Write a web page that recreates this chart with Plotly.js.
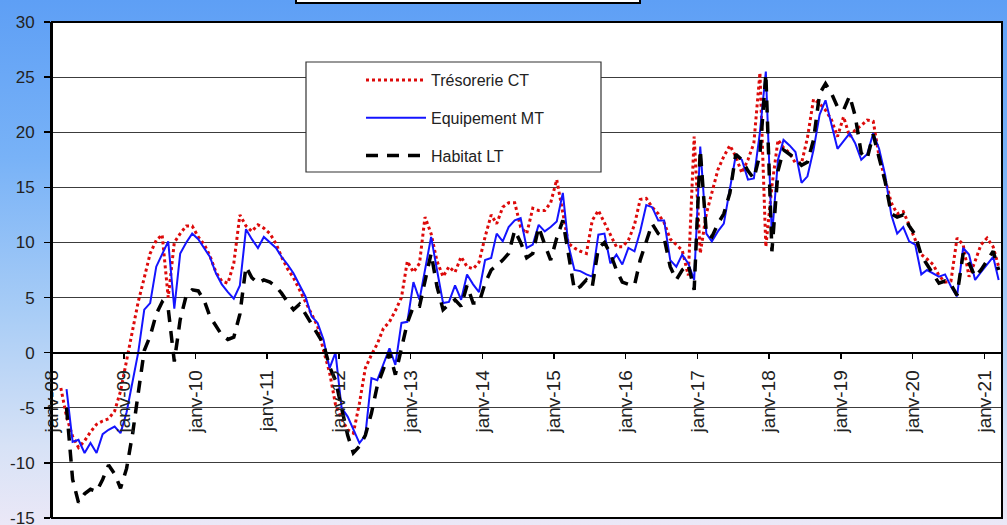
<!DOCTYPE html>
<html><head><meta charset="utf-8">
<script src="https://cdn.plot.ly/plotly-3.0.1.min.js"></script>
<style>
html,body{margin:0;padding:0;}
body{width:1007px;height:525px;overflow:hidden;background:linear-gradient(to bottom,#5e9ff5 0%,#78b2f7 30%,#a9cdf6 60%,#d7e2f6 85%,#ebe8f7 100%);}
#chart{width:1007px;height:540px;}
</style></head><body><div id="chart"></div>
<script>
// Monthly observations, first month = janv-08 (index 0), last = mars-21
const startYear = 2008;
const nMonths = 159;
const months = [];
for (let m = 0; m < nMonths; m++) {
  const y = startYear + Math.floor(m / 12);
  const mo = (m % 12) + 1;
  months.push(y + '-' + (mo < 10 ? '0' + mo : mo) + '-15');
}

const seriesNames = ['Trésorerie CT', 'Equipement MT', 'Habitat LT'];

const tresorerieCT = [
  null,-3.2,-5.8,-7.6,-8.6,-8.0,-7.2,-6.5,-6.2,-6.0,-5.3,-3.5,
  -0.8,2.2,4.6,6.8,9.0,10.2,10.7,5.0,10.0,10.8,11.5,11.5,
  10.5,9.8,8.8,7.3,6.5,6.3,8.1,12.5,11.5,11.0,11.6,11.3,
  10.8,9.9,8.7,7.6,6.8,5.7,4.6,3.6,2.4,0.2,-1.8,-4.7,
  -6.0,-7.0,-7.3,-4.6,-1.4,-0.2,0.8,2.2,2.8,3.8,5.0,8.3,
  7.3,8.1,12.3,10.8,8.3,6.9,7.8,7.3,8.7,7.8,7.6,8.2,
  10.5,12.5,11.7,13.2,13.6,13.6,11.4,10.8,13.1,12.9,12.9,13.6,
  15.7,12.7,9.9,9.5,9.2,9.0,12.0,12.9,11.8,10.8,9.6,9.6,
  10.2,11.6,13.9,14.0,13.2,12.6,11.8,10.3,9.8,9.3,7.0,19.6,
  9.0,12.6,14.5,16.6,17.8,18.8,17.8,16.3,17.5,19.0,25.4,9.6,
  15.1,19.3,18.6,18.1,17.2,17.2,19.5,23.0,22.6,22.0,21.1,19.6,
  21.4,19.6,20.2,20.6,21.1,21.0,17.8,15.7,13.6,12.6,12.8,11.6,
  10.2,8.9,8.5,8.0,7.0,6.4,6.5,10.4,9.8,6.9,8.3,9.8,
  10.4,9.6,7.8
];

const equipementMT = [
  null,null,-3.3,-8.1,-7.9,-9.1,-8.2,-9.1,-7.4,-7.0,-6.7,-7.3,
  -5.4,-2.7,0.0,3.9,4.5,7.8,9.0,10.1,4.0,9.0,10.0,10.8,
  10.3,9.5,8.7,7.2,6.2,5.5,4.9,6.1,11.2,10.3,9.5,10.5,
  10.0,9.5,8.7,8.0,7.2,6.2,5.1,3.3,2.7,1.2,-1.4,0.0,
  -5.0,-5.8,-7.0,-8.2,-7.5,-2.3,-2.5,-1.0,0.4,-1.1,2.7,2.8,
  6.4,4.8,7.5,10.5,7.5,4.5,4.6,6.1,4.8,7.1,6.2,5.5,
  8.4,8.6,10.8,10.1,11.4,12.0,12.2,9.5,9.8,11.6,11.0,11.4,
  11.9,14.5,9.8,7.5,7.4,7.1,6.9,10.7,10.8,8.1,8.9,8.0,
  9.5,9.2,11.0,13.4,13.2,12.0,12.0,8.4,7.8,8.9,8.1,6.6,
  18.7,10.8,10.1,11.0,11.7,14.8,17.9,17.5,15.7,15.8,20.0,25.5,
  10.5,17.5,19.3,18.8,18.2,15.4,16.0,18.4,21.6,22.9,20.7,18.5,
  19.2,19.9,19.0,17.5,18.0,19.9,18.5,16.1,12.5,10.8,11.4,10.1,
  9.8,7.1,7.5,7.2,6.9,7.1,6.0,5.1,9.5,8.9,6.6,7.3,
  8.0,8.7,6.6
];

const habitatLT = [
  null,null,-5.0,-11.5,-13.6,-12.8,-12.4,-12.6,-11.5,-10.2,-11.0,-12.3,
  -10.5,-7.3,-3.7,0.2,1.5,3.5,4.6,4.0,-0.8,3.0,5.2,5.7,
  5.6,4.7,3.3,2.5,1.6,1.2,1.4,3.5,7.8,6.8,6.3,6.6,
  6.4,6.0,5.4,4.6,3.9,4.4,3.5,2.5,1.6,0.8,-1.3,-2.5,
  -5.0,-7.5,-9.1,-8.5,-7.5,-5.5,-3.0,-1.5,0.0,-2.0,0.5,2.7,
  4.2,4.2,6.5,9.0,6.0,3.9,4.4,4.8,4.2,6.1,4.5,4.5,
  6.3,7.5,7.9,8.4,9.0,11.1,10.0,8.6,9.0,11.4,9.8,8.4,
  10.4,12.0,9.0,5.7,6.0,6.6,6.0,9.5,10.0,9.0,7.5,6.4,
  6.2,6.1,8.4,10.2,11.7,10.8,10.4,7.8,6.6,7.5,8.0,5.7,
  18.4,10.8,10.5,11.7,12.6,14.5,18.0,17.5,16.5,15.8,18.0,25.3,
  9.2,16.5,18.4,18.0,17.6,17.0,17.3,19.3,23.5,24.4,23.5,22.3,
  22.0,23.3,21.5,18.1,17.6,19.8,17.8,15.5,12.6,12.3,12.5,11.5,
  10.7,8.8,8.0,7.2,6.3,6.5,6.2,5.2,9.0,8.1,6.9,7.5,
  8.3,9.2,7.5
];

const tickDates = ['2008-01-01','2009-01-01','2010-01-01','2011-01-01','2012-01-01','2013-01-01','2014-01-01',
  '2015-01-01','2016-01-01','2017-01-01','2018-01-01','2019-01-01','2020-01-01','2021-01-01'];
const tickLabels = ['janv-08','janv-09','janv-10','janv-11','janv-12','janv-13','janv-14',
  'janv-15','janv-16','janv-17','janv-18','janv-19','janv-20','janv-21'];
const yTickVals = [-15, -10, -5, 0, 5, 10, 15, 20, 25, 30];
const yTickLabels = ['-15', '-10', '-5', '0', '5', '10', '15', '20', '25', '30'];

const FONT = 'Arial, "Liberation Sans", sans-serif';

const traces = [
  {x: months, y: tresorerieCT, name: seriesNames[0], type: 'scatter', mode: 'lines',
   line: {color: '#dd0a0a', width: 3, dash: 'dot'}, legendgroup: 'a'},
  {x: months, y: equipementMT, name: seriesNames[1], type: 'scatter', mode: 'lines',
   line: {color: '#1414ff', width: 2}, legendgroup: 'b'},
  {x: months, y: habitatLT, name: seriesNames[2], type: 'scatter', mode: 'lines',
   line: {color: '#000000', width: 3.5, dash: '12px,9px'}, legendgroup: 'c'}
];

// div is taller than the window so the bottom tick label is cropped like the reference
const W = 1007, H = 540, L = 52, R = 5, T = 22, B = 22;
const pw = W - L - R, ph = H - T - B;
const px = v => (v - L) / pw;
const py = v => (H - B - v) / ph;

const layout = {
  width: W, height: H,
  margin: {l: L, r: R, t: T, b: B, pad: 0},
  paper_bgcolor: 'rgba(0,0,0,0)',
  plot_bgcolor: '#ffffff',
  font: {family: FONT, color: '#222222', size: 16},
  showlegend: true,
  legend: {
    x: px(361), y: py(63), xanchor: 'left', yanchor: 'top',
    bgcolor: 'rgba(0,0,0,0)', borderwidth: 0,
    font: {family: FONT, size: 16, color: '#222222'},
    tracegroupgap: 14, traceorder: 'grouped', itemwidth: 60
  },
  xaxis: {
    type: 'date',
    range: ['2008-01-01', '2021-04-01'],
    anchor: 'free', position: 15 / 45,
    tickvals: tickDates, ticktext: tickLabels,
    tickangle: -90,
    tickfont: {family: FONT, size: 19, color: '#222222'},
    ticks: 'outside', ticklen: 5, tickwidth: 1.5, tickcolor: '#000',
    showline: true, linecolor: '#000000', linewidth: 2,
    showgrid: false, zeroline: false,
    ticklabelstandoff: 4
  },
  yaxis: {
    range: [-15, 30],
    tickvals: yTickVals, ticktext: yTickLabels,
    tickfont: {family: FONT, size: 17, color: '#222222'},
    ticks: 'outside', ticklen: 6, tickwidth: 1.5, tickcolor: '#000',
    showline: true, linecolor: '#000000', linewidth: 2,
    showgrid: true, gridcolor: '#3c3c3c', gridwidth: 1,
    zeroline: false,
    ticklabelstandoff: 6
  },
  shapes: [
    // plot frame
    {type: 'rect', xref: 'paper', yref: 'paper', x0: 0, x1: 1, y0: 0, y1: 1,
     line: {color: '#000', width: 2}, fillcolor: 'rgba(0,0,0,0)', layer: 'above'},
    // legend box
    {type: 'rect', xref: 'paper', yref: 'paper', x0: px(306), x1: px(601), y0: py(172), y1: py(62),
     line: {color: '#333', width: 1.2}, fillcolor: '#ffffff', layer: 'above'},
    // title box (cut off at top)
    {type: 'rect', xref: 'paper', yref: 'paper', x0: px(296), x1: px(640), y0: py(3), y1: py(-20),
     line: {color: '#000', width: 2}, fillcolor: '#ffffff', layer: 'above'}
  ]
};

Plotly.newPlot('chart', traces, layout, {staticPlot: true, displayModeBar: false});
</script></body></html>
